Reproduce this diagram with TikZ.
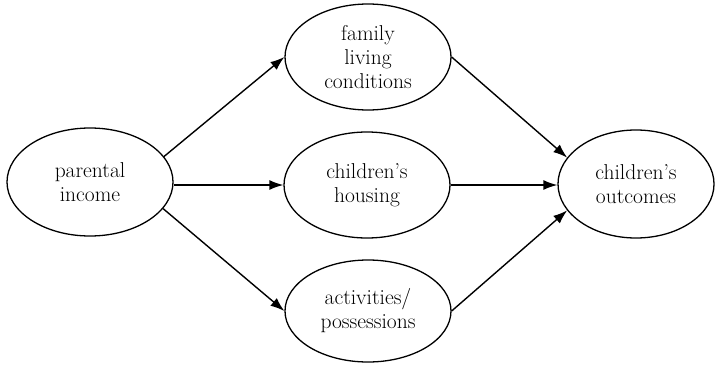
\documentclass[tikz,border=0pt]{standalone}
\usetikzlibrary{shapes.geometric,arrows.meta}
\begin{document}
\begin{tikzpicture}[x=1pt,y=-1pt,
  oval/.style={ellipse,draw,line width=1.3pt,inner sep=0pt,
    minimum width=166pt,minimum height=106pt,align=center,
    font=\fontsize{21.5}{24}\selectfont},
  link/.style={line width=1.4pt,-{Latex[length=14pt,width=10pt]}}]
\useasboundingbox (0,0) rectangle (719,369);
\node[oval,minimum height=108pt] (inc) at (90,182) {parental\\income};
\node[oval] (fam) at (368,57) {family\\living\\conditions};
\node[oval] (hou) at (367,185) {children's\\housing};
\node[oval,minimum height=102pt] (act) at (368,311) {activities/\\possessions};
\node[oval,minimum width=156pt,minimum height=108pt] (out) at (636,184) {children's\\outcomes};
\draw[link] (inc.19) -- (fam.west);
\draw[link] (inc.east |- hou.west) -- (hou.west);
\draw[link] (inc.-20) -- (act.west);
\draw[link] (fam.east) -- (out.159);
\draw[link] (hou.east) -- (hou.east -| out.west);
\draw[link] (act.east) -- (out.201);
\end{tikzpicture}
\end{document}
